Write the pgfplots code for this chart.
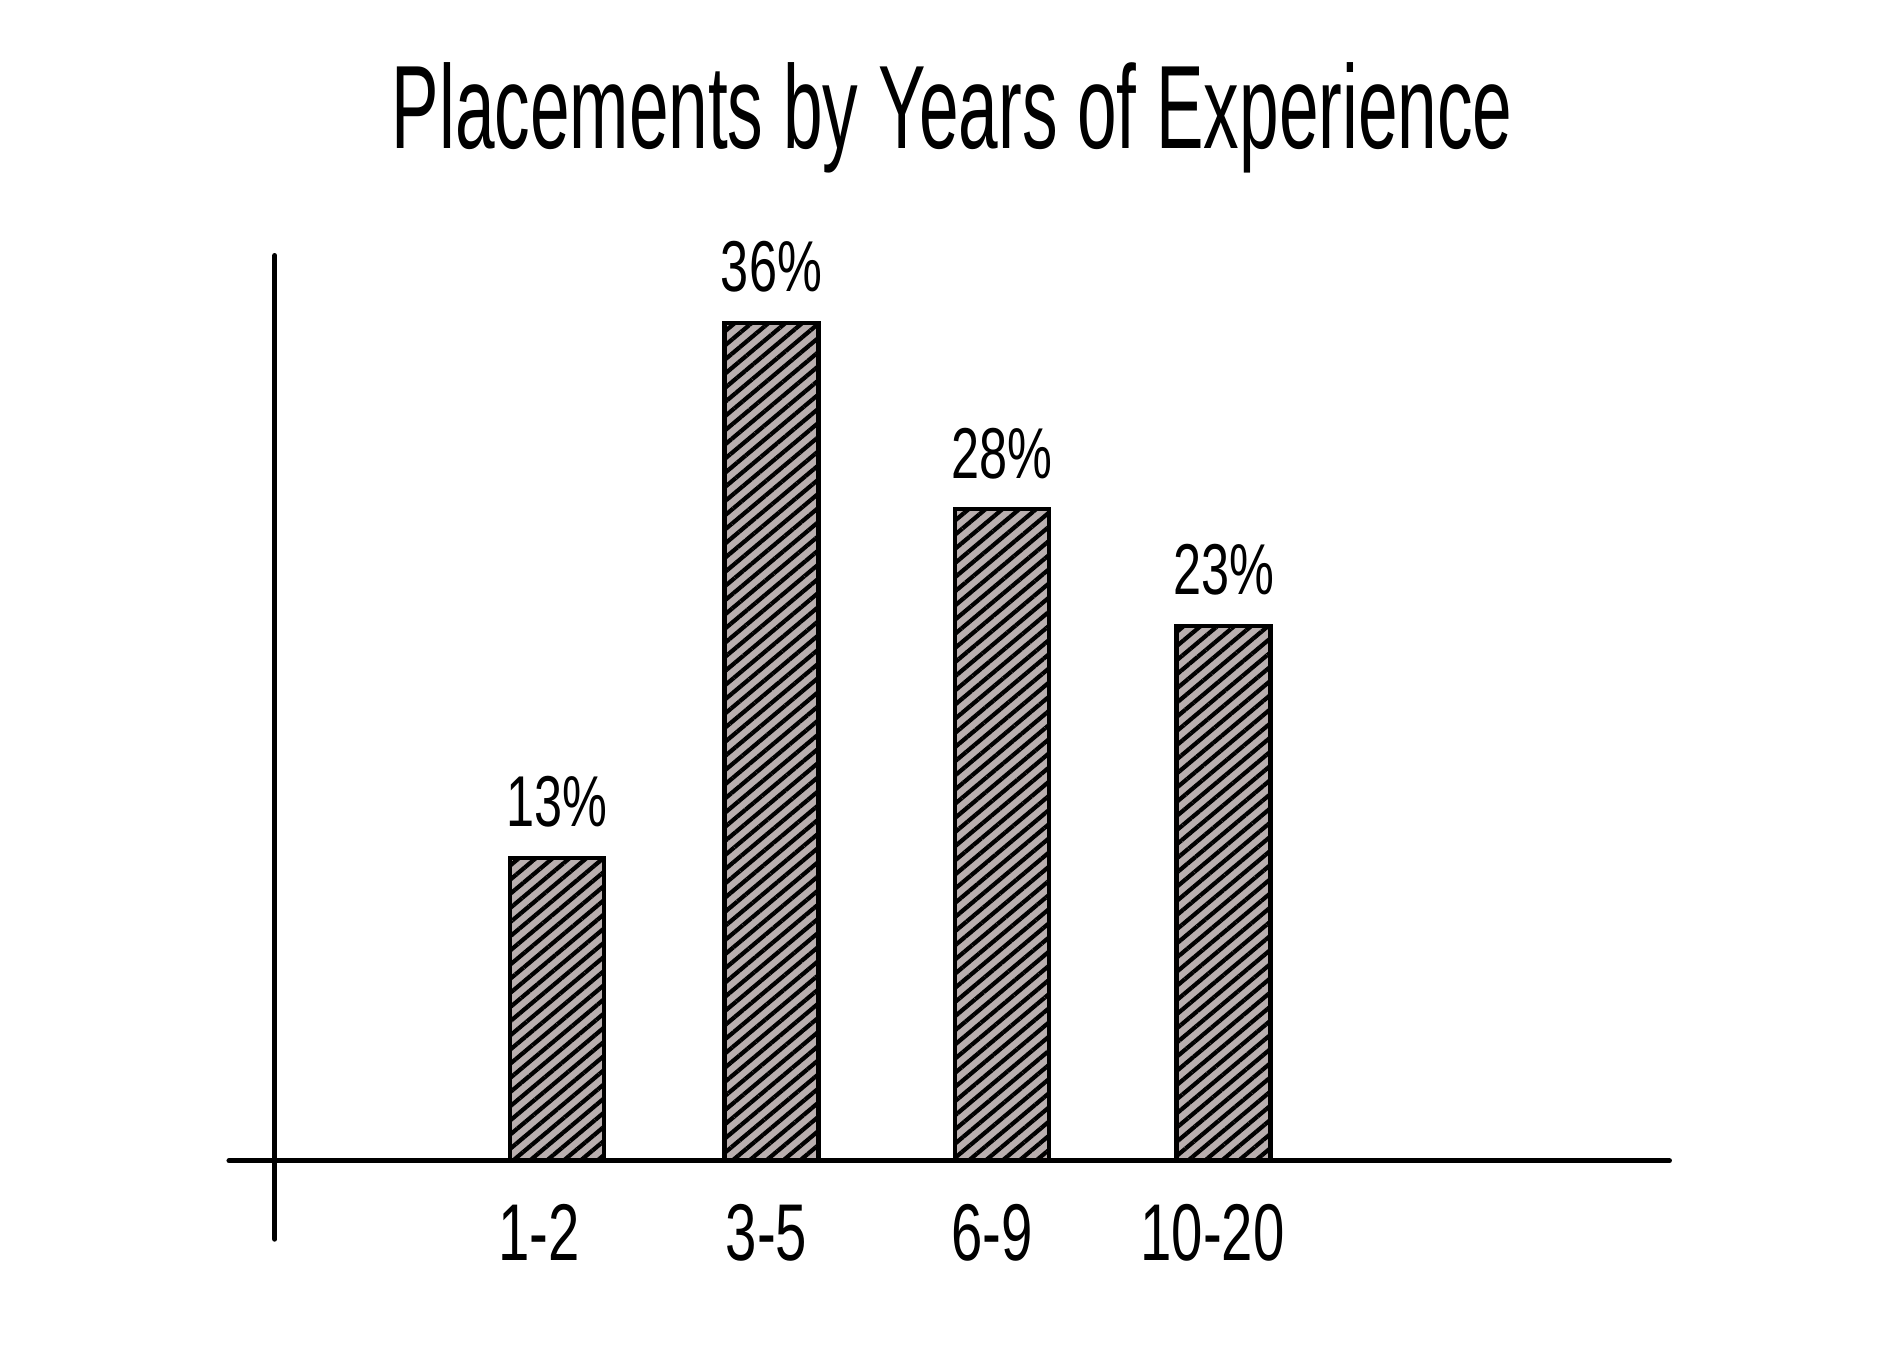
\documentclass[border=0pt]{standalone}
\usepackage{pgfplots}
\pgfplotsset{compat=1.18}
\usepackage{fontspec}
\setmainfont{Liberation Sans}
\usetikzlibrary{patterns.meta}
\definecolor{barbg}{RGB}{185,175,175}
\begin{document}
\begin{tikzpicture}
\begin{axis}[
  width=15.68cm, height=11.32cm, scale only axis,
  xmin=0, xmax=15.68, ymin=-8.756, ymax=49.896,
  axis line style={draw=none}, tick style={draw=none},
  ytick=\empty,
  xtick={4.47,6.36,8.23,10.06},
  xticklabels={\scalebox{0.7}[1]{1-2},\scalebox{0.7}[1]{3-5},\scalebox{0.7}[1]{6-9},\scalebox{0.7}[1]{10-20}},
  xticklabel style={anchor=base, yshift=0.86cm, font=\fontsize{19}{22}\selectfont},
  /pgf/number format/assume math mode=true,
  clip=false,
]
\addplot[ybar, bar width=0.78cm, draw=black, line width=1pt,
  preaction={fill=barbg},
  pattern={Lines[angle=40,distance=0.9mm,line width=0.35mm]}, pattern color=black,
] coordinates {(4.62,13) (6.40,36) (8.31,28) (10.15,23)};
\addplot[draw=none, mark=none,
  nodes near coords={\scalebox{0.7}[1]{\pgfmathprintnumber[assume math mode=true]{\pgfplotspointmeta}\%}},
  every node near coord/.append style={anchor=base, yshift=0.26cm, font=\fontsize{17}{20}\selectfont, text=black}
] coordinates {(4.62,13) (6.40,36) (8.31,28) (10.15,23)};
\draw[line width=1.2pt, line cap=round] (axis cs:1.90,0) -- (axis cs:13.85,0);
\draw[line width=1.2pt, line cap=round] (axis cs:2.28,38.91) -- (axis cs:2.28,-3.37);
\node[anchor=base, font=\fontsize{28}{32}\selectfont] at (axis cs:7.90,43.52) {\scalebox{0.6}[1]{Placements by Years of Experience}};
\end{axis}
\end{tikzpicture}
\end{document}
